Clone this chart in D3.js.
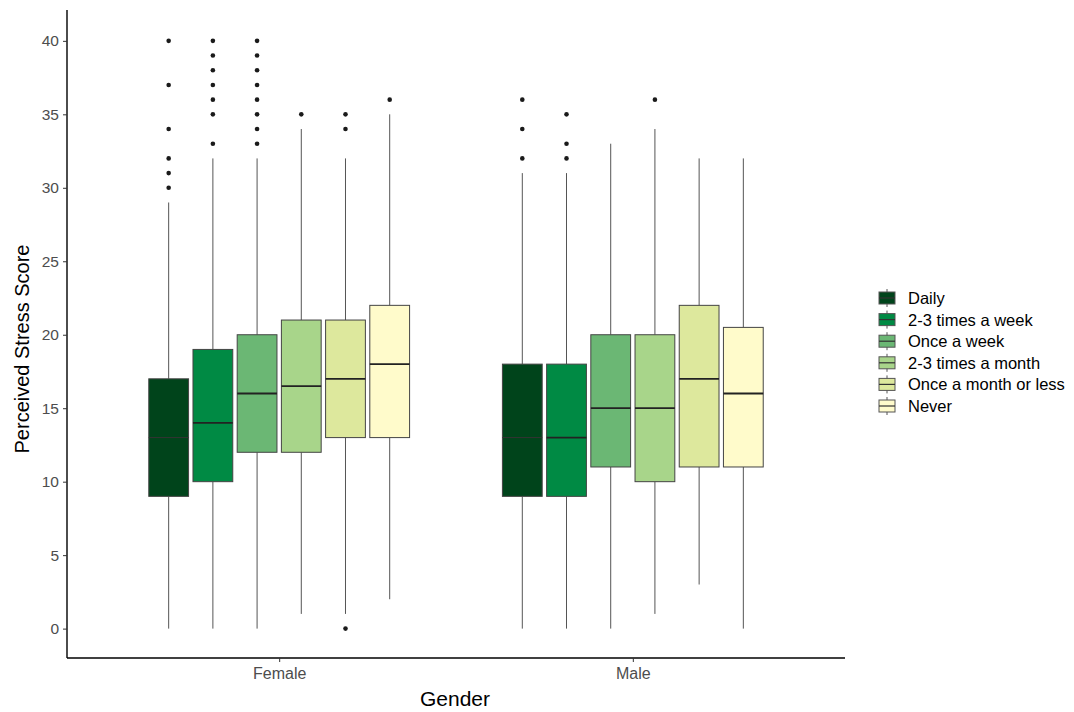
<!DOCTYPE html>
<html><head><meta charset="utf-8">
<script src="https://cdn.jsdelivr.net/npm/d3@7"></script>
<style>body{margin:0;background:#fff;font-family:"Liberation Sans",Arial,sans-serif;}</style>
</head><body><svg id="c" width="1074" height="712"></svg>
<script>
const genders = ["Female", "Male"];
const frequencies = ["Daily", "2-3 times a week", "Once a week", "2-3 times a month", "Once a month or less", "Never"];
const colors = ["#00441b", "#008a44", "#6bb774", "#a8d58a", "#dde89d", "#fffbcb"];
const yTicks = [0, 5, 10, 15, 20, 25, 30, 35, 40];
// [lowerWhisker, q1, median, q3, upperWhisker]
const femaleStats = [
  [0, 9, 13, 17, 29],
  [0, 10, 14, 19, 32],
  [0, 12, 16, 20, 32],
  [1, 12, 16.5, 21, 34],
  [1, 13, 17, 21, 32],
  [2, 13, 18, 22, 35]
];
const maleStats = [
  [0, 9, 13, 18, 31],
  [0, 9, 13, 18, 31],
  [0, 11, 15, 20, 33],
  [1, 10, 15, 20, 34],
  [3, 11, 17, 22, 32],
  [0, 11, 16, 20.5, 32]
];
const femaleOutliers = [
  [40, 37, 34, 32, 31, 30],
  [40, 39, 38, 37, 36, 35, 33],
  [40, 39, 38, 37, 36, 35, 34, 33],
  [35],
  [35, 34, 0],
  [36]
];
const maleOutliers = [
  [36, 34, 32],
  [35, 33, 32],
  [],
  [36],
  [],
  []
];

const statsByGender = {Female: femaleStats, Male: maleStats};
const outByGender = {Female: femaleOutliers, Male: maleOutliers};

const svg = d3.select("#c");
const mLeft = 67, mRight = 845, mTop = 10, mBottom = 658;

const x = d3.scalePoint().domain(genders).range([mLeft, mRight]).padding(0.6);
const unit = x.step();
const dodge = d3.scaleLinear().domain([0, frequencies.length - 1]).range([-2.5 * 0.125 * unit, 2.5 * 0.125 * unit]);
const boxW = 0.1125 * unit;
const y = d3.scaleLinear().domain([-2, 42.1]).range([mBottom, mTop]);
const color = d3.scaleOrdinal().domain(frequencies).range(colors);

const g = svg.append("g");
genders.forEach(gen => {
  frequencies.forEach((f, i) => {
    const s = statsByGender[gen][i];
    const cx = x(gen) + dodge(i);
    g.append("line").attr("x1", cx).attr("x2", cx).attr("y1", y(s[0])).attr("y2", y(s[1]))
      .attr("stroke", "#555").attr("stroke-width", 1);
    g.append("line").attr("x1", cx).attr("x2", cx).attr("y1", y(s[3])).attr("y2", y(s[4]))
      .attr("stroke", "#555").attr("stroke-width", 1);
    g.append("rect").attr("x", cx - boxW / 2).attr("width", boxW)
      .attr("y", y(s[3])).attr("height", y(s[1]) - y(s[3]))
      .attr("fill", color(f)).attr("stroke", "#444").attr("stroke-width", 1);
    g.append("line").attr("x1", cx - boxW / 2).attr("x2", cx + boxW / 2)
      .attr("y1", y(s[2])).attr("y2", y(s[2]))
      .attr("stroke", i === 0 ? "#333" : "#222").attr("stroke-width", i === 0 ? 1 : 1.8);
    outByGender[gen][i].forEach(v => {
      g.append("circle").attr("cx", cx).attr("cy", y(v)).attr("r", 2.3).attr("fill", "#1a1a1a");
    });
  });
});

const yAxis = svg.append("g").attr("transform", `translate(${mLeft},0)`)
  .call(d3.axisLeft(y).tickValues(yTicks).tickSize(4).tickPadding(4));
yAxis.select(".domain").attr("d", `M0,${mTop}V${mBottom}`).attr("stroke", "#000").attr("stroke-width", 1.4);
yAxis.selectAll(".tick line").attr("stroke", "#333");
yAxis.selectAll(".tick text").attr("fill", "#4d4d4d").style("font-size", "15.5px").style("font-family", "Liberation Sans, Arial, sans-serif");

const xAxis = svg.append("g").attr("transform", `translate(0,${mBottom})`)
  .call(d3.axisBottom(x).tickSize(4).tickPadding(6));
xAxis.select(".domain").attr("d", `M${mLeft},0H${mRight}`).attr("stroke", "#000").attr("stroke-width", 1.4);
xAxis.selectAll(".tick line").attr("stroke", "#333");
xAxis.selectAll(".tick text").attr("fill", "#4d4d4d").style("font-size", "16px").style("font-family", "Liberation Sans, Arial, sans-serif");

svg.append("text").attr("x", 455).attr("y", 706).attr("text-anchor", "middle")
  .style("font-size", "21px").attr("fill", "#000").text("Gender");
svg.append("text").attr("transform", `translate(29,349) rotate(-90)`).attr("text-anchor", "middle")
  .style("font-size", "20px").attr("fill", "#000").text("Perceived Stress Score");

const lg = svg.append("g").attr("transform", "translate(878,289)");
frequencies.forEach((f, i) => {
  const row = lg.append("g").attr("transform", `translate(0,${i * 21.6})`);
  row.append("line").attr("x1", 9).attr("x2", 9).attr("y1", 0).attr("y2", 18).attr("stroke", "#555");
  row.append("rect").attr("x", 1).attr("y", 3).attr("width", 16).attr("height", 12)
    .attr("fill", color(f)).attr("stroke", "#555").attr("stroke-width", 1);
  row.append("line").attr("x1", 1).attr("x2", 17).attr("y1", 9).attr("y2", 9).attr("stroke", "#333").attr("stroke-width", 1.2);
  row.append("text").attr("x", 30).attr("y", 15).style("font-size", "16.5px").attr("fill", "#000").text(f);
});
</script>
</body></html>
